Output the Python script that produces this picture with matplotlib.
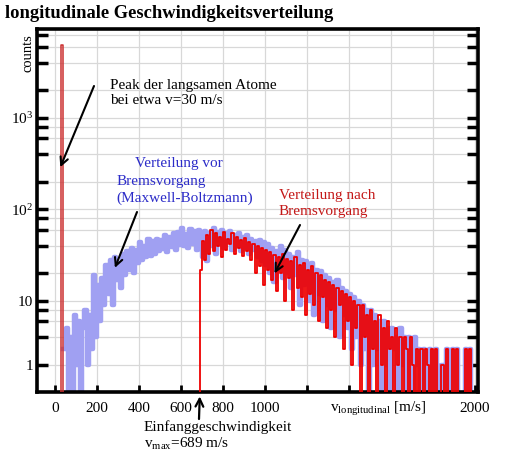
import numpy as np
import matplotlib
matplotlib.use('Agg')
import matplotlib.pyplot as plt
from matplotlib.ticker import FixedLocator, FixedFormatter

plt.rcParams['font.family'] = 'Liberation Serif'
plt.rcParams['mathtext.fontset'] = 'custom'
plt.rcParams['mathtext.rm'] = 'Liberation Serif'
plt.rcParams['mathtext.it'] = 'Liberation Serif'

# blue histogram: counts before slowing, 10 m/s bins starting at 40 m/s
blue_start = 40
blue_counts = [
    3, 5, 1, 4, 0, 7, 2, 6, 1, 5, 8, 2, 7, 3, 19, 4, 15, 6, 18, 9,
    25, 12, 28, 9, 30, 17, 26, 14, 33, 19, 35, 22, 38, 20, 36, 26, 44, 28, 40, 30,
    47, 31, 45, 33, 48, 35, 46, 37, 52, 34, 50, 39, 55, 36, 57, 41, 62, 40, 54, 38,
    61, 42, 58, 36, 60, 44, 30, 58, 27, 55, 40, 62, 33, 57, 42, 60, 38, 55, 44, 58,
    36, 52, 40, 56, 35, 50, 38, 53, 33, 48, 36, 45, 30, 46, 27, 44, 25, 42, 20, 38,
    16, 35, 22, 40, 18, 36, 20, 33, 14, 30, 19, 34, 9, 28, 15, 27, 24, 10, 26, 7,
    22, 12, 21, 6, 19, 9, 18, 5, 16, 8, 17, 4, 14, 7, 13, 5, 12, 3, 11, 4,
    10, 2, 9, 3, 8, 0, 8, 2, 7, 3, 6, 0, 6, 2, 5, 0, 5, 3, 4, 0,
    5, 2, 4, 0, 4, 3, 0, 4, 2, 3, 0, 3, 2, 0, 3, 0, 0, 3, 0, 0,
    2, 0, 3, 0, 0, 3, 0, 3, 0, 0, 0, 3, 0, 3, 0, 0,
]

# red histogram: counts after slowing, 10 m/s bins starting at 680 m/s
red_start = 680
red_counts = [
    0, 22, 45, 28, 52, 33, 60, 35, 55, 40, 50, 30, 57, 36, 48, 42, 55, 33, 50, 38,
    46, 31, 49, 35, 44, 28, 42, 20, 40, 24, 38, 15, 36, 22, 34, 17, 32, 13, 30, 20,
    33, 10, 29, 18, 27, 8, 30, 14, 25, 11, 26, 7, 22, 12, 24, 9, 20, 6, 19, 11,
    17, 5, 16, 8, 15, 4, 14, 9, 13, 3, 12, 6, 11, 2, 10, 5, 9, 0, 9, 4,
    7, 0, 8, 3, 6, 0, 7, 2, 5, 0, 6, 3, 4, 0, 5, 2, 4, 0, 4, 3,
    0, 4, 2, 0, 3, 0, 3, 0, 3, 2, 0, 3, 0, 3, 0, 0, 2, 0, 3, 0,
    0, 3, 0, 3, 0, 0, 0, 3, 0, 3, 0, 0,
]

# peak of slow atoms near 30 m/s
peak_v = [25, 32, 39]
peak_counts = [0, 6300, 0]

blue_v = blue_start + 10 * np.arange(len(blue_counts))
red_v = red_start + 10 * np.arange(len(red_counts))

W, H = 507, 466
fig = plt.figure(figsize=(W / 100, H / 100), dpi=100)
ax = fig.add_axes([37 / W, 1 - 392 / H, (478 - 37) / W, (392 - 29) / H])


def px(x, y):
    return (x / W, 1 - y / H)


ax.set_yscale('log')
ax.set_xlim(-86, 2014)
ax.set_ylim(1.01, 9400)

ax.plot(blue_v, blue_counts, drawstyle='steps-post', color='#a0a0f2', lw=3.2, zorder=2)
ax.plot(red_v, red_counts, drawstyle='steps-post', color='#ee0000', lw=1.3, zorder=3)
ax.plot(peak_v, peak_counts, drawstyle='steps-mid', color='#cc3030', lw=1.1, zorder=3)

# axes styling
ax.yaxis.set_major_locator(FixedLocator([2, 10, 100, 1000]))
ax.yaxis.set_major_formatter(FixedFormatter(['1', '10', '$10^2$', '$10^3$']))
ax.yaxis.set_minor_locator(FixedLocator([4, 6, 8, 20, 40, 60, 80, 200, 400, 600, 800,
                                         2000, 4000, 6000, 8000]))
ax.yaxis.set_minor_formatter(FixedFormatter([''] * 15))
ax.set_xticks(range(0, 2001, 200))
ax.set_xticklabels(['0', '200', '400', '600', '800', '1000', '', '', '', '', '2000'])

ax.tick_params(axis='y', which='both', direction='in', length=8, width=2.5,
               right=True, left=True, labelsize=11, pad=3)
ax.tick_params(axis='x', which='both', direction='in', length=5, width=2,
               top=False, labelsize=11, pad=7)
for s in ax.spines.values():
    s.set_linewidth(2.6)

ax.grid(True, which='both', color='#d8d8d8', lw=0.9, zorder=0)
ax.set_axisbelow(True)

# texts
fig.text(*px(5, 14), 'longitudinale Geschwindigkeitsverteilung', fontsize=13.3,
         fontweight='bold', va='center', ha='left')
fig.text(*px(28, 53), 'counts', rotation=90, fontsize=10.5, va='center', ha='center')
fig.text(*px(330, 409), r'v$_{\mathrm{longitudinal}}$ [m/s]', fontsize=11,
         va='center', ha='left')

fig.text(*px(110, 85), 'Peak der langsamen Atome', fontsize=11, va='center')
fig.text(*px(110, 101), 'bei etwa v=30 m/s', fontsize=11, va='center')
ax.annotate('', xy=(25, 290), xycoords='data', xytext=px(94, 86),
            textcoords='figure fraction',
            arrowprops=dict(arrowstyle='->', lw=1.5, color='black',
                            shrinkA=0, shrinkB=0, mutation_scale=14))

blue_txt = '#2c2cc8'
fig.text(*px(135, 163), 'Verteilung vor', fontsize=11, va='center', color=blue_txt)
fig.text(*px(117, 181), 'Bremsvorgang', fontsize=11, va='center', color=blue_txt)
fig.text(*px(116, 198), '(Maxwell-Boltzmann)', fontsize=11, va='center', color=blue_txt)
ax.annotate('', xy=(285, 23), xycoords='data', xytext=px(137, 212),
            textcoords='figure fraction',
            arrowprops=dict(arrowstyle='->', lw=1.5, color='black',
                            shrinkA=0, shrinkB=0, mutation_scale=14))

red_txt = '#c41818'
fig.text(*px(279, 195), 'Verteilung nach', fontsize=11, va='center', color=red_txt)
fig.text(*px(279, 212), 'Bremsvorgang', fontsize=11, va='center', color=red_txt)
ax.annotate('', xy=(1045, 20), xycoords='data', xytext=px(300, 225),
            textcoords='figure fraction',
            arrowprops=dict(arrowstyle='->', lw=1.5, color='black',
                            shrinkA=0, shrinkB=0, mutation_scale=14))

fig.text(*px(144, 427), 'Einfanggeschwindigkeit', fontsize=11, va='center')
fig.text(*px(144, 444), r'v$_{\mathrm{max}}$=689 m/s', fontsize=11, va='center')
ax.annotate('', xy=(689, -0.012), xycoords=('data', 'axes fraction'),
            xytext=px(199, 419), textcoords='figure fraction',
            arrowprops=dict(arrowstyle='->', lw=1.6, color='black',
                            shrinkA=0, shrinkB=0, mutation_scale=14),
            annotation_clip=False)

fig.savefig('out.png', dpi=100)
